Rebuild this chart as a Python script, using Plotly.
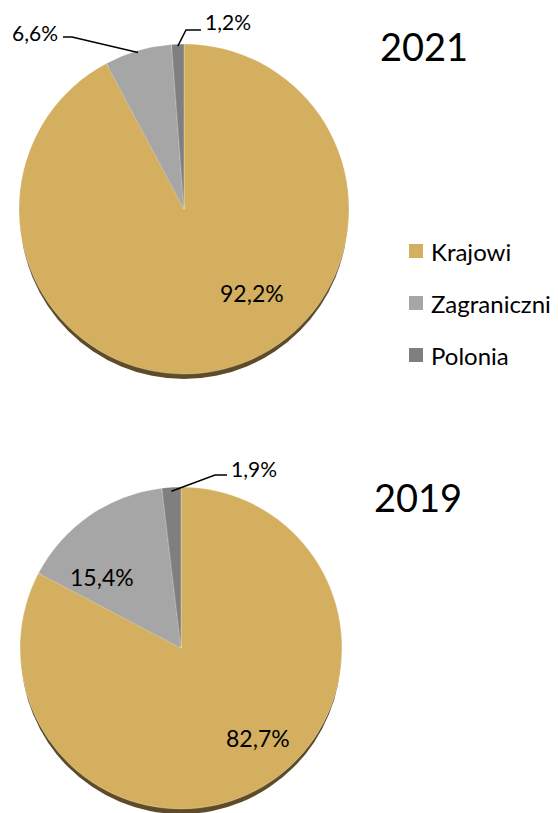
import math
import plotly.graph_objects as go

W, H = 558, 813

categories = ["Krajowi", "Zagraniczni", "Polonia"]
values_2021 = [92.2, 6.6, 1.2]
values_2019 = [82.7, 15.4, 1.9]
years = ["2021", "2019"]
colors = ["#D3AF5F", "#A6A6A6", "#7F7F7F"]
FONT = "Lato, 'Open Sans', sans-serif"


def px(x):
    return x / W


def py(y):
    return 1 - y / H


def fmt(v):
    return f"{v:.1f}".replace(".", ",") + "%"


# pie geometry (pixel centre and radius) - layout
pies = [
    dict(vals=values_2021, cx=184, cy=209, r=165, title=(424, 46)),
    dict(vals=values_2019, cx=181, cy=648, r=161, title=(418, 497)),
]

fig = go.Figure()
shapes = []
annotations = []

for p in pies:
    cx, cy, r = p["cx"], p["cy"], p["r"]
    # shadow
    shapes.append(dict(type="circle", xref="paper", yref="paper", layer="below",
                       x0=px(cx - r + 1), x1=px(cx + r - 1),
                       y0=py(cy + r + 5), y1=py(cy - r + 5),
                       fillcolor="#5E4B27", line=dict(width=0)))
    fig.add_trace(go.Pie(
        labels=categories, values=p["vals"], sort=False, direction="clockwise",
        rotation=0, textinfo="none", hoverinfo="label+percent",
        marker=dict(colors=colors, line=dict(color="rgba(255,255,255,0.45)", width=0.6)),
        domain=dict(x=[px(cx - r), px(cx + r)], y=[py(cy + r), py(cy - r)]),
        showlegend=False,
    ))


def mid_point(vals, idx, cx, cy, r):
    tot = sum(vals)
    start = sum(vals[:idx])
    mid = (start + vals[idx] / 2) / tot * 2 * math.pi
    return cx + r * math.sin(mid), cy - r * math.cos(mid)


lbl = dict(color="#000000", family=FONT)


def ann(text, x, y, size, xanchor="center"):
    annotations.append(dict(text=text, x=px(x), y=py(y), xref="paper", yref="paper",
                            xanchor=xanchor, yanchor="middle", showarrow=False,
                            font=dict(size=size, **lbl)))


# 2021 labels
p = pies[0]
ann(fmt(p["vals"][0]), 252, 293, 23)
tx, ty = mid_point(p["vals"], 1, p["cx"], p["cy"], p["r"])
ann(fmt(p["vals"][1]), 60, 32, 21, "right")
shapes.append(dict(type="path", xref="paper", yref="paper",
                   path=f"M {px(63)},{py(37)} L {px(72)},{py(37)} L {px(tx)},{py(ty + 2)}",
                   line=dict(color="black", width=1.5)))
tx, ty = mid_point(p["vals"], 2, p["cx"], p["cy"], p["r"])
ann(fmt(p["vals"][2]), 203, 22, 21, "left")
shapes.append(dict(type="path", xref="paper", yref="paper",
                   path=f"M {px(201)},{py(30)} L {px(186)},{py(30)} L {px(tx)},{py(ty + 2)}",
                   line=dict(color="black", width=1.5)))

# 2019 labels
p = pies[1]
ann(fmt(p["vals"][0]), 258, 738, 23)
ann(fmt(p["vals"][1]), 102, 577, 23)
tx, ty = mid_point(p["vals"], 2, p["cx"], p["cy"], p["r"])
ann(fmt(p["vals"][2]), 229, 469, 21, "left")
shapes.append(dict(type="path", xref="paper", yref="paper",
                   path=f"M {px(227)},{py(475)} L {px(215)},{py(475)} L {px(tx)},{py(ty + 4)}",
                   line=dict(color="black", width=1.5)))

# year titles
for p, yr in zip(pies, years):
    ann(yr, p["title"][0], p["title"][1], 38)

# manual legend
for i, (cat, col) in enumerate(zip(categories, colors)):
    yc = 251 + i * 52
    shapes.append(dict(type="rect", xref="paper", yref="paper",
                       x0=px(409), x1=px(423), y0=py(yc + 7), y1=py(yc - 7),
                       fillcolor=col, line=dict(width=0)))
    ann(cat, 429, yc, 24, "left")

fig.update_layout(
    width=W, height=H, margin=dict(l=0, r=0, t=0, b=0),
    paper_bgcolor="white", plot_bgcolor="white",
    shapes=shapes, annotations=annotations, showlegend=False,
)

fig.write_html("out.html", config={"displayModeBar": False},
               post_script="document.body.style.margin='0';document.body.style.overflow='hidden';")
